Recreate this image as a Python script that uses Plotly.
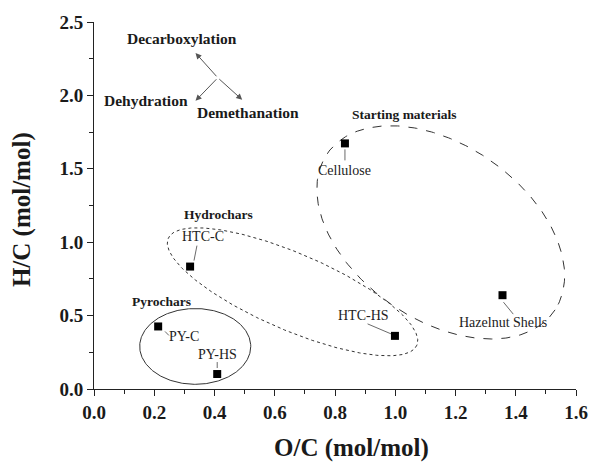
import numpy as np
import plotly.graph_objects as go

# ---- data ----
samples = ["Cellulose", "Hazelnut Shells", "HTC-C", "HTC-HS", "PY-C", "PY-HS"]
o_c = [0.833, 1.356, 0.319, 0.999, 0.213, 0.409]
h_c = [1.673, 0.639, 0.834, 0.362, 0.426, 0.102]

x_ticks = [0.0, 0.2, 0.4, 0.6, 0.8, 1.0, 1.2, 1.4, 1.6]
y_ticks = [0.0, 0.5, 1.0, 1.5, 2.0, 2.5]

# ---- layout constants ----
W, H = 600, 464
ML, MR, MT, MB = 94, 13, 21, 75
PW, PH = W - ML - MR, H - MT - MB
XR, YR = (0, 1.6), (0, 2.5)
SX = PW / (XR[1] - XR[0])   # px per x unit
SY = PH / (YR[1] - YR[0])   # px per y unit

FONT = "Liberation Serif"
INK = "#1a1a1a"

fig = go.Figure()

# group ellipses: centre (data), semi-axes (px), tilt (deg, clockwise on screen), dash
ellipses = [
    dict(cx=1.151, cy=1.067, a=140.4, b=88.2, th=33.6, dash="dash"),
    dict(cx=0.659, cy=0.662, a=138.0, b=38.5, th=22.8, dash="dot"),
    dict(cx=0.336, cy=0.290, a=56.8, b=38.0, th=0.0, dash="solid"),
]
t = np.linspace(0, 2 * np.pi, 361)
for e in ellipses:
    th = np.radians(e["th"])
    dx = e["a"] * np.cos(th) * np.cos(t) - e["b"] * np.sin(th) * np.sin(t)
    dy = e["a"] * np.sin(th) * np.cos(t) + e["b"] * np.cos(th) * np.sin(t)
    fig.add_trace(go.Scatter(
        x=e["cx"] + dx / SX, y=e["cy"] - dy / SY, mode="lines",
        line=dict(color="#333333", width=1, dash=e["dash"]),
        hoverinfo="skip", showlegend=False))

# points
fig.add_trace(go.Scatter(
    x=o_c, y=h_c, mode="markers",
    marker=dict(symbol="square", size=8, color="black"),
    showlegend=False, text=samples))

# point labels: text offset (px) and leader line offsets (px) relative to point
label_off = {
    "Cellulose": ((0, 27), (0, 6), (0, 17)),
    "Hazelnut Shells": ((0, 27), (1, 7), (11, 19)),
    "HTC-C": ((13, -30), (7, -21), (4, -6)),
    "HTC-HS": ((-32, -20), (-28, -12), (-4, -2)),
    "PY-C": ((26, 10), (7, 5), (11, 9)),
    "PY-HS": ((0, -20), (0, -12), (0, -6)),
}
annotations = []
shapes = []
for name, x, y in zip(samples, o_c, h_c):
    (tx, ty), (l1x, l1y), (l2x, l2y) = label_off[name]
    annotations.append(dict(
        x=x + tx / SX, y=y - ty / SY, xref="x", yref="y", text=name,
        showarrow=False, font=dict(family=FONT, size=14, color="#222222"),
        xanchor="center", yanchor="middle"))
    shapes.append(dict(
        type="line", xref="x", yref="y",
        x0=x + l1x / SX, y0=y - l1y / SY, x1=x + l2x / SX, y1=y - l2y / SY,
        line=dict(color="#444444", width=0.8)))

# group labels
group_labels = [("Starting materials", 1.030, 1.868),
                ("Hydrochars", 0.414, 1.187),
                ("Pyrochars", 0.224, 0.593)]
for txt, x, y in group_labels:
    annotations.append(dict(
        x=x, y=y, xref="x", yref="y", text=txt, showarrow=False,
        font=dict(family=FONT, size=13.5, color=INK, weight="bold")))

# reaction pathway arrows
arrow_origin = (0.411, 2.120)
arrow_tips = [(0.337, 2.289), (0.492, 1.970), (0.337, 1.963)]
for tx, ty in arrow_tips:
    annotations.append(dict(
        x=tx, y=ty, ax=arrow_origin[0], ay=arrow_origin[1],
        xref="x", yref="y", axref="x", ayref="y", text="",
        showarrow=True, arrowhead=2, arrowsize=1.2, arrowwidth=1,
        arrowcolor="#555555", standoff=0, startstandoff=0))
path_labels = [("Decarboxylation", 0.292, 2.391),
               ("Dehydration", 0.171, 1.963),
               ("Demethanation", 0.512, 1.882)]
for txt, x, y in path_labels:
    annotations.append(dict(
        x=x, y=y, xref="x", yref="y", text=txt, showarrow=False,
        font=dict(family=FONT, size=15.5, color=INK, weight="bold")))

# axis titles
annotations.append(dict(
    x=(357 - ML) / PW, y=-(448 - (MT + PH)) / PH, xref="paper", yref="paper",
    text="O/C (mol/mol)", showarrow=False, xanchor="center", yanchor="middle",
    font=dict(family=FONT, size=25, color=INK, weight="bold")))
annotations.append(dict(
    x=-(ML - 21) / PW, y=((MT + PH) - 209) / PH, xref="paper", yref="paper",
    text="H/C (mol/mol)", showarrow=False, textangle=-90,
    xanchor="center", yanchor="middle",
    font=dict(family=FONT, size=25, color=INK, weight="bold")))

axis_common = dict(
    showline=True, linecolor="#222222", linewidth=1, mirror=False,
    ticks="outside", ticklen=6, tickwidth=1, tickcolor="#222222",
    showgrid=False, zeroline=False,
    tickfont=dict(family=FONT, size=19, color=INK, weight="bold"),
)
fig.update_layout(
    width=W, height=H,
    margin=dict(l=ML, r=MR, t=MT, b=MB, pad=0),
    paper_bgcolor="white", plot_bgcolor="white",
    xaxis=dict(range=list(XR), tickmode="array", tickvals=x_ticks,
               ticktext=[f"{v:.1f}" for v in x_ticks],
               minor=dict(ticks="outside", ticklen=4, dtick=0.1,
                          tickcolor="#222222", showgrid=False),
               **axis_common),
    yaxis=dict(range=list(YR), tickmode="array", tickvals=y_ticks,
               ticktext=[f"{v:.1f}" for v in y_ticks],
               minor=dict(ticks="outside", ticklen=4, dtick=0.25,
                          tickcolor="#222222", showgrid=False),
               **axis_common),
    annotations=annotations, shapes=shapes,
    showlegend=False,
)

fig.write_html("out.html")
